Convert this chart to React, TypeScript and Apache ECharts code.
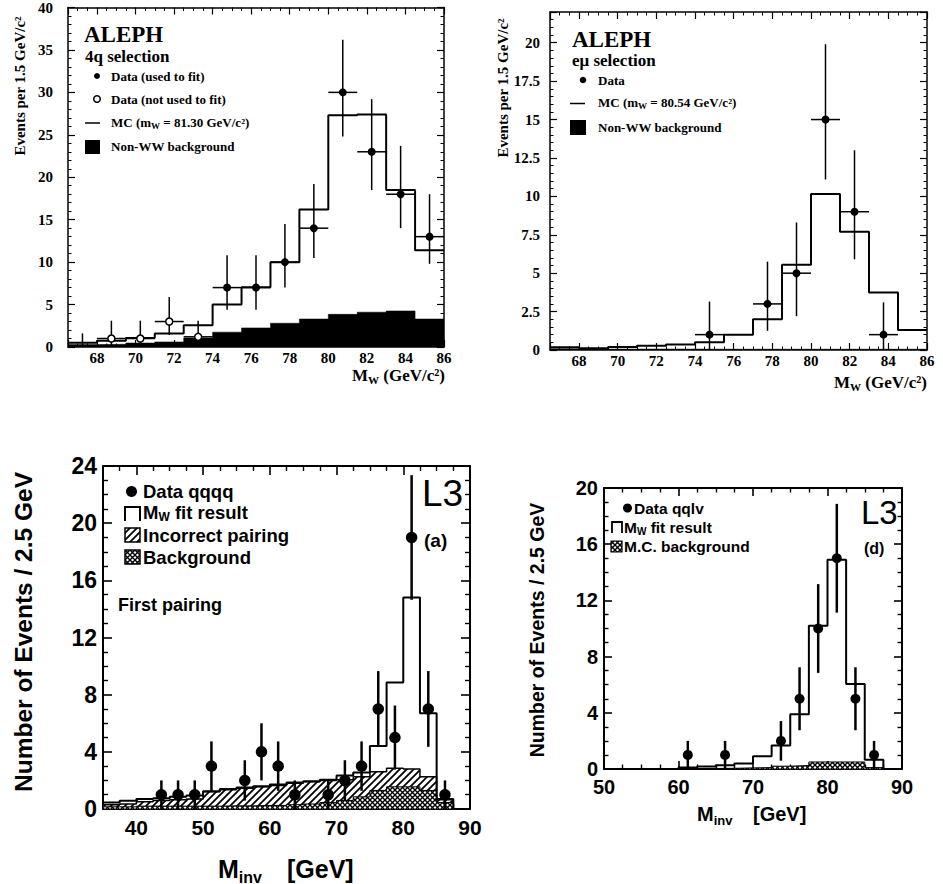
import React, { useEffect, useRef } from 'react';
import * as echarts from 'echarts';

const SERIF = '"Liberation Serif", "Times New Roman", serif';
const SANS = '"Liberation Sans", Arial, Helvetica, sans-serif';

// ---------- Panel 1: ALEPH 4q selection ----------
const aleph4qEdges = [66.5, 68, 69.5, 71, 72.5, 74, 75.5, 77, 78.5, 80, 81.5, 83, 84.5, 86];
const aleph4qMC = [0.5, 0.75, 1.05, 1.6, 2.55, 5.0, 7.05, 10.0, 16.2, 27.3, 27.4, 18.5, 11.4];
const aleph4qBkg = [0.28, 0.32, 0.47, 0.6, 1.06, 1.75, 2.25, 2.8, 3.3, 3.85, 4.1, 4.25, 3.3];
const aleph4qFitX = [74.75, 76.25, 77.75, 79.25, 80.75, 82.25, 83.75, 85.25];
const aleph4qFitY = [7, 7, 10, 14, 30, 23, 18, 13];
const aleph4qFitLo = [4.4, 4.4, 7.0, 10.5, 24.8, 18.5, 14.0, 9.8];
const aleph4qFitHi = [10.8, 10.8, 14.5, 19.2, 36.2, 29.2, 23.7, 18.0];
const aleph4qNoFitX = [68.75, 70.25, 71.75, 73.25];
const aleph4qNoFitY = [1, 1, 3, 1.2];
const aleph4qNoFitLo = [0.1, 0.1, 1.4, 0.2];
const aleph4qNoFitHi = [3.1, 3.1, 5.9, 3.1];
const aleph4qZeroX = [67.25];
const aleph4qZeroHi = [1.6];

// ---------- Panel 2: ALEPH e-mu selection ----------
const alephEmuEdges = [66.5, 68, 69.5, 71, 72.5, 74, 75.5, 77, 78.5, 80, 81.5, 83, 84.5, 86];
const alephEmuMC = [0.18, 0.12, 0.2, 0.28, 0.36, 0.5, 1.0, 2.0, 5.55, 10.15, 7.7, 3.75, 1.3];
const alephEmuBkg = [0.08, 0.06, 0.06, 0.06, 0.06, 0.05, 0.05, 0.05, 0.05, 0.05, 0.05, 0.05, 0.05];
const alephEmuX = [74.75, 77.75, 79.25, 80.75, 82.25, 83.75];
const alephEmuY = [1, 3, 5, 15, 9, 1];
const alephEmuLo = [0, 1.25, 2.2, 11.1, 5.9, 0];
const alephEmuHi = [3.15, 5.75, 8.3, 19.9, 13.0, 3.1];

// ---------- Panel 3: L3 qqqq ----------
const l3qqqqEdges = [35, 37.5, 40, 42.5, 45, 47.5, 50, 52.5, 55, 57.5, 60, 62.5, 65, 67.5, 70, 72.5, 75, 77.5, 80, 82.5, 85, 87.5];
const l3qqqqFit = [0.45, 0.58, 0.7, 0.75, 0.85, 0.95, 1.25, 1.4, 1.5, 1.6, 1.72, 1.85, 1.95, 2.05, 2.35, 2.55, 4.4, 8.85, 14.8, 6.7, 0.7];
const l3qqqqWrong = [0.3, 0.35, 0.5, 0.6, 0.65, 0.7, 1.2, 1.35, 1.45, 1.55, 1.65, 1.8, 1.9, 2.0, 2.05, 2.25, 2.6, 2.85, 2.8, 2.25, 0.65];
const l3qqqqBkg = [0.15, 0.15, 0.2, 0.2, 0.2, 0.2, 0.2, 0.22, 0.22, 0.25, 0.25, 0.3, 0.35, 0.45, 0.6, 0.85, 1.3, 1.55, 1.55, 1.3, 0.45];
const l3qqqqX = [43.75, 46.25, 48.75, 51.25, 56.25, 58.75, 61.25, 63.75, 68.75, 71.25, 73.75, 76.25, 78.75, 81.25, 83.75, 86.25];
const l3qqqqY = [1, 1, 1, 3, 2, 4, 3, 1, 1, 2, 3, 7, 5, 19, 7, 1];
const l3qqqqLo = [0, 0, 0, 1.27, 0.59, 2, 1.27, 0, 0, 0.59, 1.27, 4.35, 2.76, 14.64, 4.35, 0];
const l3qqqqHi = [2, 2, 2, 4.73, 3.41, 6, 4.73, 2, 2, 3.41, 4.73, 9.65, 7.24, 23.36, 9.65, 2];

// ---------- Panel 4: L3 qqlv ----------
const l3qqlvEdges = [50, 52.5, 55, 57.5, 60, 62.5, 65, 67.5, 70, 72.5, 75, 77.5, 80, 82.5, 85, 87.5];
const l3qqlvFit = [0, 0, 0, 0.02, 0.1, 0.17, 0.26, 0.4, 0.9, 1.68, 3.9, 10.2, 14.9, 6.05, 0.65];
const l3qqlvBkg = [0, 0, 0, 0, 0.03, 0.04, 0.05, 0.08, 0.1, 0.2, 0.25, 0.5, 0.5, 0.5, 0.1];
const l3qqlvX = [61.25, 66.25, 73.75, 76.25, 78.75, 81.25, 83.75, 86.25];
const l3qqlvY = [1, 1, 2, 5, 10, 15, 5, 1];
const l3qqlvLo = [0, 0, 0.59, 2.76, 6.84, 11.13, 2.76, 0];
const l3qqlvHi = [2, 2, 3.41, 7.24, 13.16, 18.87, 7.24, 2];

function stepPoints(edges: number[], values: number[], closeZero: boolean) {
  const pts: number[][] = values.map((v, i) => [edges[i], v]);
  pts.push([edges[edges.length - 1], closeZero ? 0 : values[values.length - 1]]);
  return pts;
}

function makeHatch(): HTMLCanvasElement {
  const s = 7;
  const c = document.createElement('canvas');
  c.width = s; c.height = s;
  const g = c.getContext('2d')!;
  g.fillStyle = '#fff'; g.fillRect(0, 0, s, s);
  g.strokeStyle = '#000'; g.lineWidth = 1.8;
  g.beginPath();
  g.moveTo(-1, s + 1); g.lineTo(s + 1, -1);
  g.moveTo(-s / 2 - 1, s / 2 + 1); g.lineTo(s / 2 + 1, -s / 2 - 1);
  g.moveTo(s / 2 - 1, s * 1.5 + 1); g.lineTo(s * 1.5 + 1, s / 2 - 1);
  g.stroke();
  return c;
}

function makeCross(): HTMLCanvasElement {
  const s = 5;
  const c = document.createElement('canvas');
  c.width = s; c.height = s;
  const g = c.getContext('2d')!;
  g.fillStyle = '#fff'; g.fillRect(0, 0, s, s);
  g.strokeStyle = '#000'; g.lineWidth = 1.4;
  g.beginPath();
  g.moveTo(-1, s + 1); g.lineTo(s + 1, -1);
  g.moveTo(-1, -1); g.lineTo(s + 1, s + 1);
  g.stroke();
  return c;
}

type AxisCfg = {
  min: number; max: number; interval?: number; splitNumber?: number; minorSplit: number;
  font: string; size: number; margin: number; lineW: number; tickLen: number; minorLen: number;
  hideMin?: boolean; hideMax?: boolean;
};

function axisPair(dim: 'x' | 'y', grid: number, c: AxisCfg) {
  const base: any = {
    type: 'value', gridIndex: grid, min: c.min, max: c.max,
    splitLine: { show: false },
    axisLine: { show: true, onZero: false, lineStyle: { color: '#000', width: c.lineW } },
    axisTick: { show: true, inside: true, length: c.tickLen, lineStyle: { color: '#000', width: c.lineW * 0.8 } },
    minorTick: { show: true, splitNumber: c.minorSplit, length: c.minorLen, lineStyle: { color: '#000', width: c.lineW * 0.7 } },
    minorSplitLine: { show: false },
  };
  if (c.interval !== undefined) base.interval = c.interval;
  if (c.splitNumber !== undefined) base.splitNumber = c.splitNumber;
  const label: any = { show: true, color: '#000', fontFamily: c.font, fontSize: c.size, fontWeight: 'bold', margin: c.margin };
  if (c.hideMin) label.showMinLabel = false;
  if (c.hideMax) label.showMaxLabel = false;
  const main = { ...base, position: dim === 'x' ? 'bottom' : 'left', axisLabel: label };
  const opp = { ...base, position: dim === 'x' ? 'top' : 'right', axisLabel: { show: false } };
  return [main, opp];
}

function errorBars(panel: number, xs: number[], ys: number[], lo: number[], hi: number[], halfW: number, lw: number, z: number) {
  return {
    type: 'custom', xAxisIndex: panel * 2, yAxisIndex: panel * 2, z, silent: true,
    data: xs.map((x, i) => [x, ys[i], lo[i], hi[i]]),
    encode: { x: 0, y: 1 },
    renderItem: (params: any, api: any) => {
      const x = api.value(0), y = api.value(1), l = api.value(2), h = api.value(3);
      const pt = api.coord([x, h]);
      const pb = api.coord([x, l]);
      const children: any[] = [{ type: 'line', shape: { x1: pt[0], y1: pt[1], x2: pb[0], y2: pb[1] }, style: { stroke: '#000', lineWidth: lw } }];
      if (halfW > 0) {
        const pl = api.coord([x - halfW, y]);
        const pr = api.coord([x + halfW, y]);
        children.push({ type: 'line', shape: { x1: pl[0], y1: pl[1], x2: pr[0], y2: pr[1] }, style: { stroke: '#000', lineWidth: lw } });
      }
      return { type: 'group', children };
    },
  };
}

function markers(panel: number, xs: number[], ys: number[], size: number, open: boolean, z: number) {
  return {
    type: 'scatter', xAxisIndex: panel * 2, yAxisIndex: panel * 2, z, silent: true,
    symbol: 'circle', symbolSize: size,
    itemStyle: open ? { color: '#fff', borderColor: '#000', borderWidth: 1.5, opacity: 1 } : { color: '#000', opacity: 1 },
    data: xs.map((x, i) => [x, ys[i]]),
  };
}

function stepLine(panel: number, edges: number[], values: number[], closeZero: boolean, lw: number, z: number, fill?: any) {
  const s: any = {
    type: 'line', xAxisIndex: panel * 2, yAxisIndex: panel * 2, z, silent: true,
    step: 'end', symbol: 'none', showSymbol: false,
    lineStyle: { color: '#000', width: lw },
    data: stepPoints(edges, values, closeZero),
  };
  if (fill) s.areaStyle = { color: fill, opacity: 1 };
  return s;
}

function txt(x: number, y: number, text: string, family: string, size: number, weight: string, extra: any = {}) {
  return {
    type: 'text', x, y, silent: true, z: 100,
    style: { text, fill: '#000', fontFamily: family, fontSize: size, fontWeight: weight, align: 'left', verticalAlign: 'middle', ...extra },
  };
}

let measureCtx: CanvasRenderingContext2D | null = null;
function measure(text: string, family: string, size: number, weight: string) {
  if (!measureCtx) measureCtx = document.createElement('canvas').getContext('2d');
  measureCtx!.font = `${weight} ${size}px ${family}`;
  return measureCtx!.measureText(text).width;
}

// segments: [text, fontSize, dy]
function segText(x: number, y: number, segs: [string, number, number][], family: string, weight: string, align: 'left' | 'right') {
  const widths = segs.map(([t, s]) => measure(t, family, s, weight));
  const total = widths.reduce((a, b) => a + b, 0);
  let cx = align === 'right' ? x - total : x;
  const out: any[] = [];
  segs.forEach(([t, s, dy], i) => {
    out.push(txt(cx, y + dy, t, family, s, weight));
    cx += widths[i];
  });
  return out;
}

export default function App() {
  const ref = useRef<HTMLDivElement>(null);
  useEffect(() => {
    if (!ref.current) return;
    const chart = echarts.init(ref.current, null, { renderer: 'svg' });
    const hatch = { image: makeHatch(), repeat: 'repeat' };
    const cross = { image: makeCross(), repeat: 'repeat' };

    const alephX: AxisCfg = { min: 66.5, max: 86, splitNumber: 10, minorSplit: 4, font: SERIF, size: 15, margin: 3, lineW: 1.5, tickLen: 7, minorLen: 3.5, hideMin: true };
    const xAxes = [
      ...axisPair('x', 0, alephX),
      ...axisPair('x', 1, alephX),
      ...axisPair('x', 2, { min: 35, max: 90, splitNumber: 5, minorSplit: 4, font: SANS, size: 21, margin: 8, lineW: 2, tickLen: 9, minorLen: 5, hideMin: true }),
      ...axisPair('x', 3, { min: 50, max: 90, interval: 10, minorSplit: 4, font: SANS, size: 20, margin: 8, lineW: 2, tickLen: 8, minorLen: 4.5 }),
    ];
    const yAxes = [
      ...axisPair('y', 0, { min: 0, max: 40, interval: 5, minorSplit: 5, font: SERIF, size: 15, margin: 15, lineW: 1.5, tickLen: 7, minorLen: 3.5 }),
      ...axisPair('y', 1, { min: 0, max: 22, interval: 2.5, minorSplit: 5, font: SERIF, size: 15, margin: 10, lineW: 1.5, tickLen: 7, minorLen: 3.5, hideMax: true }),
      ...axisPair('y', 2, { min: 0, max: 24, interval: 4, minorSplit: 4, font: SANS, size: 23, margin: 6, lineW: 2, tickLen: 9, minorLen: 5 }),
      ...axisPair('y', 3, { min: 0, max: 20, interval: 4, minorSplit: 4, font: SANS, size: 20, margin: 6, lineW: 2, tickLen: 8, minorLen: 4.5 }),
    ];

    const series: any[] = [
      // panel 1
      stepLine(0, aleph4qEdges, aleph4qBkg, false, 0.5, 1, '#000'),
      stepLine(0, aleph4qEdges, aleph4qMC, false, 2, 2),
      errorBars(0, aleph4qZeroX, [0], [0], aleph4qZeroHi, 0, 1.5, 3),
      errorBars(0, aleph4qNoFitX, aleph4qNoFitY, aleph4qNoFitLo, aleph4qNoFitHi, 0.75, 1.5, 3),
      errorBars(0, aleph4qFitX, aleph4qFitY, aleph4qFitLo, aleph4qFitHi, 0.75, 1.5, 3),
      markers(0, aleph4qNoFitX, aleph4qNoFitY, 7, true, 4),
      markers(0, aleph4qFitX, aleph4qFitY, 8, false, 4),
      // panel 2
      stepLine(1, alephEmuEdges, alephEmuBkg, false, 0.5, 1, '#000'),
      stepLine(1, alephEmuEdges, alephEmuMC, false, 2, 2),
      errorBars(1, alephEmuX, alephEmuY, alephEmuLo, alephEmuHi, 0.75, 1.5, 3),
      markers(1, alephEmuX, alephEmuY, 8, false, 4),
      // panel 3
      stepLine(2, l3qqqqEdges, l3qqqqWrong, true, 1.5, 1, hatch),
      stepLine(2, l3qqqqEdges, l3qqqqBkg, true, 1, 1.5, cross),
      stepLine(2, l3qqqqEdges, l3qqqqFit, true, 2, 2),
      errorBars(2, l3qqqqX, l3qqqqY, l3qqqqLo, l3qqqqHi, 0, 2.5, 3),
      markers(2, l3qqqqX, l3qqqqY, 11.5, false, 4),
      // panel 4
      stepLine(3, l3qqlvEdges, l3qqlvBkg, true, 1, 1.5, cross),
      stepLine(3, l3qqlvEdges, l3qqlvFit, true, 2, 2),
      errorBars(3, l3qqlvX, l3qqlvY, l3qqlvLo, l3qqlvHi, 0, 2.5, 3),
      markers(3, l3qqlvX, l3qqlvY, 10, false, 4),
    ];

    const graphics: any[] = [
      // ---- panel 1 texts ----
      txt(84, 34, 'ALEPH', SERIF, 23, 'bold'),
      txt(85, 56, '4q selection', SERIF, 17, 'bold'),
      { type: 'circle', shape: { cx: 97, cy: 76, r: 3 }, style: { fill: '#000' }, z: 100 },
      txt(111, 76, 'Data (used to fit)', SERIF, 13, 'bold'),
      { type: 'circle', shape: { cx: 97, cy: 99, r: 3.3 }, style: { fill: '#fff', stroke: '#000', lineWidth: 1.5 }, z: 100 },
      txt(111, 99, 'Data (not used to fit)', SERIF, 13, 'bold'),
      { type: 'line', shape: { x1: 85, y1: 123, x2: 100, y2: 123 }, style: { stroke: '#000', lineWidth: 1.5 }, z: 100 },
      ...segText(111, 122, [['MC (m', 13, 0], ['W', 9, 4], [' = 81.30 GeV/c²)', 13, 0]], SERIF, 'bold', 'left'),
      { type: 'rect', shape: { x: 85, y: 140, width: 15, height: 14 }, style: { fill: '#000' }, z: 100 },
      txt(111, 146, 'Non-WW background', SERIF, 13, 'bold'),
      { ...txt(20, 86, 'Events per 1.5 GeV/c²', SERIF, 15, 'bold', { align: 'center' }), rotation: Math.PI / 2 },
      ...segText(445, 375, [['M', 17, 0], ['W', 11, 5], [' (GeV/c²)', 17, 0]], SERIF, 'bold', 'right'),
      // ---- panel 2 texts ----
      txt(572, 39, 'ALEPH', SERIF, 23, 'bold'),
      txt(572, 60, 'eμ selection', SERIF, 17, 'bold'),
      { type: 'circle', shape: { cx: 583, cy: 80, r: 3.3 }, style: { fill: '#000' }, z: 100 },
      txt(598, 80, 'Data', SERIF, 13, 'bold'),
      { type: 'line', shape: { x1: 570, y1: 103.5, x2: 585, y2: 103.5 }, style: { stroke: '#000', lineWidth: 1.5 }, z: 100 },
      ...segText(598, 102, [['MC (m', 13, 0], ['W', 9, 4], [' = 80.54 GeV/c²)', 13, 0]], SERIF, 'bold', 'left'),
      { type: 'rect', shape: { x: 570, y: 120, width: 16, height: 15 }, style: { fill: '#000' }, z: 100 },
      txt(598, 127, 'Non-WW background', SERIF, 13, 'bold'),
      { ...txt(503, 88, 'Events per 1.5 GeV/c²', SERIF, 15, 'bold', { align: 'center' }), rotation: Math.PI / 2 },
      ...segText(927, 382, [['M', 17, 0], ['W', 11, 5], [' (GeV/c²)', 17, 0]], SERIF, 'bold', 'right'),
      // ---- panel 3 texts ----
      { type: 'circle', shape: { cx: 131.5, cy: 491.5, r: 5.5 }, style: { fill: '#000' }, z: 100 },
      txt(143, 491, 'Data qqqq', SANS, 18.5, 'bold'),
      { type: 'polyline', shape: { points: [[125, 521], [125, 507], [140, 507], [140, 521]] }, style: { stroke: '#000', lineWidth: 2, fill: 'none' }, z: 100 },
      ...segText(143, 512, [['M', 18.5, 0], ['W', 12, 5], [' fit result', 18.5, 0]], SANS, 'bold', 'left'),
      { type: 'rect', shape: { x: 125, y: 528, width: 15, height: 14 }, style: { fill: hatch, stroke: '#000', lineWidth: 1.5 }, z: 100 },
      txt(143, 535, 'Incorrect pairing', SANS, 18.5, 'bold'),
      { type: 'rect', shape: { x: 125, y: 550, width: 15, height: 14 }, style: { fill: cross, stroke: '#000', lineWidth: 1.5 }, z: 100 },
      txt(143, 557, 'Background', SANS, 18.5, 'bold'),
      txt(118, 605, 'First pairing', SANS, 18, 'bold'),
      txt(422, 493, 'L3', SANS, 37, 'normal'),
      txt(424, 540, '(a)', SANS, 19, 'bold'),
      { ...txt(23, 632, 'Number of Events / 2.5 GeV', SANS, 24.5, 'bold', { align: 'center' }), rotation: Math.PI / 2 },
      ...segText(218, 869, [['M', 25, 0], ['inv', 16, 8]], SANS, 'bold', 'left'),
      txt(287, 869, '[GeV]', SANS, 25, 'bold'),
      // ---- panel 4 texts ----
      { type: 'circle', shape: { cx: 627.5, cy: 508, r: 4.5 }, style: { fill: '#000' }, z: 100 },
      txt(634, 508, 'Data qqlv', SANS, 15.5, 'bold'),
      { type: 'polyline', shape: { points: [[612, 533], [612, 522], [622, 522], [622, 533]] }, style: { stroke: '#000', lineWidth: 1.8, fill: 'none' }, z: 100 },
      ...segText(624, 527, [['M', 15.5, 0], ['W', 10, 4], [' fit result', 15.5, 0]], SANS, 'bold', 'left'),
      { type: 'rect', shape: { x: 611, y: 541, width: 11, height: 11 }, style: { fill: cross, stroke: '#000', lineWidth: 1.2 }, z: 100 },
      txt(624, 546.5, 'M.C. background', SANS, 15.5, 'bold'),
      txt(861, 512, 'L3', SANS, 33, 'normal'),
      txt(864, 548, '(d)', SANS, 16, 'bold'),
      { ...txt(537, 630, 'Number of Events / 2.5 GeV', SANS, 19.5, 'bold', { align: 'center' }), rotation: Math.PI / 2 },
      ...segText(697, 814, [['M', 20, 0], ['inv', 13, 6]], SANS, 'bold', 'left'),
      txt(753, 814, '[GeV]', SANS, 20, 'bold'),
    ];

    chart.setOption({
      animation: false,
      backgroundColor: '#fff',
      grid: [
        { left: 68, top: 7, width: 376, height: 340, containLabel: false },
        { left: 550, top: 12, width: 377, height: 338, containLabel: false },
        { left: 103, top: 466, width: 367, height: 343, containLabel: false },
        { left: 604, top: 488, width: 298, height: 281, containLabel: false },
      ],
      xAxis: xAxes,
      yAxis: yAxes,
      series,
      graphic: graphics,
    });
    return () => chart.dispose();
  }, []);
  return <div ref={ref} style={{ position: 'fixed', left: 0, top: 0, width: 943, height: 884, background: '#fff' }} />;
}
